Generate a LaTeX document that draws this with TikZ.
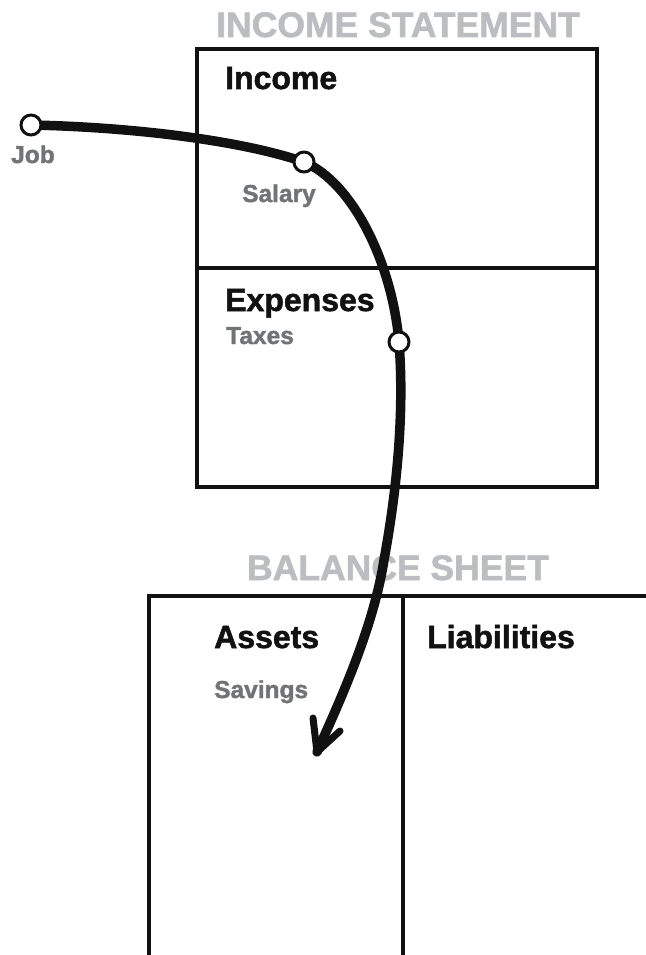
\documentclass[tikz,border=0pt]{standalone}
\usepackage{fontspec}
\setmainfont[BoldFeatures={FakeBold=1.6}]{Liberation Sans}
\usetikzlibrary{calc}
\definecolor{titlegray}{HTML}{BCBDC0}
\definecolor{labelgray}{HTML}{727376}
\definecolor{ink}{HTML}{111111}
\tikzset{
  box/.style={draw=ink, line width=4pt},
  title/.style={anchor=base, text=titlegray, font=\bfseries\fontsize{35.5}{40}\selectfont, inner sep=0pt},
  head/.style={anchor=base west, text=ink, font=\bfseries\fontsize{32}{36}\selectfont, inner sep=0pt},
  sub/.style={anchor=base west, text=labelgray, font=\bfseries\fontsize{24.5}{28}\selectfont, inner sep=0pt},
  dot/.style={circle, draw=ink, fill=white, line width=3pt, minimum size=20pt, inner sep=0pt},
  flow/.style={draw=ink, line width=9.5pt, line cap=round, line join=round},
  chev/.style={draw=ink, line width=7pt, line cap=round, line join=round}
}
\begin{document}
\begin{tikzpicture}[x=1pt,y=-1pt]
\useasboundingbox (0,0) rectangle (645,955);
% income statement
\node[title] (ist) at (398,37) {INCOME STATEMENT};
\draw[box] (197,49) rectangle (597,487);
\draw[box] (197,268) -- (597,268);
\node[head] (inc) at (225,89) {Income};
\node[head] (exp) at (225,311) {Expenses};
% balance sheet
\node[title] (bst) at (398,580) {BALANCE SHEET};
\draw[box] (660,596) -- (149,596) -- (149,970);
\draw[box] (403,596) -- (403,970);
\node[head] (ast) at (214,648) {Assets};
\node[head] (lia) at (427,648) {Liabilities};
% flow labels
\node[sub] (jobl) at (11,163) {Job};
\node[sub] (sall) at (242,202) {Salary};
\node[sub] (taxl) at (226,344) {Taxes};
\node[sub] (savl) at (214,698) {Savings};
% flow
\coordinate (tip) at (317,752);
\coordinate (mid) at (384,560);
\path (31,125) coordinate (jobc) (304,162) coordinate (salc) (399,342) coordinate (taxc);
\draw[flow] (jobc) .. controls (130,127) and (240,140) .. (salc)
  .. controls (352,182) and (392,262) .. (taxc)
  .. controls (405,420) and (395,500) .. (mid)
  .. controls (373,630) and (338,705) .. (tip);
\draw[chev] (313,718) -- (tip) -- (340,731);
\node[dot] (job) at (jobc) {};
\node[dot] (sal) at (salc) {};
\node[dot] (tax) at (taxc) {};
\end{tikzpicture}
\end{document}
